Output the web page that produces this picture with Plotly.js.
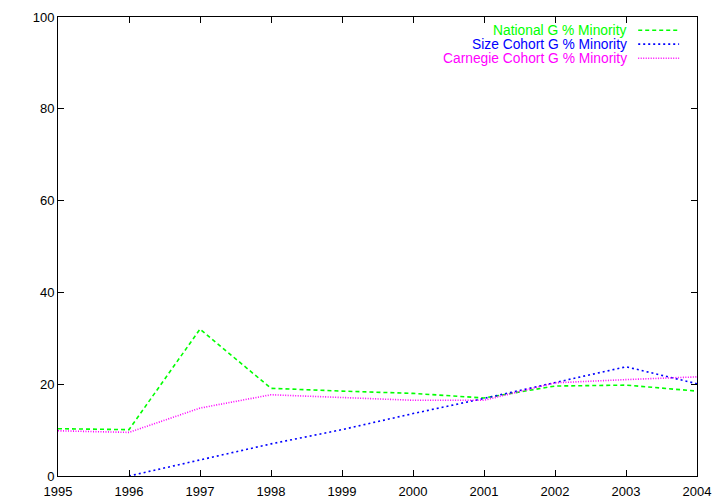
<!DOCTYPE html>
<html><head><meta charset="utf-8">
<script src="https://cdn.plot.ly/plotly-3.0.1.min.js"></script>
<style>html,body{margin:0;padding:0;background:#fff}#c{width:720px;height:504px}</style>
</head><body><div id="c"></div>
<script>
const years = [1995,1996,1997,1998,1999,2000,2001,2002,2003,2004];
const nationalMinority = [10.3,10.1,32.0,19.1,18.5,18.0,17.0,19.6,19.8,18.5];
const sizeYears = [1996,1997,1998,1999,2000,2001,2002,2003,2004];
const sizeMinority = [0.0,3.5,7.0,10.1,13.6,16.9,20.4,23.8,20.1];
const carnegieMinority = [9.85,9.5,14.8,17.7,17.1,16.5,16.5,20.3,21.0,21.6];
const seriesNames = ["National G % Minority","Size Cohort G % Minority","Carnegie Cohort G % Minority"];
const yTicks = [0,20,40,60,80,100];

const colors = ["#00ff00","#0000ff","#ff00ff"];
const dashes = ["4px,3px","2px,3px","1px,1.5px"];
const traces = [
  {x: years, y: nationalMinority, name: seriesNames[0]},
  {x: sizeYears, y: sizeMinority, name: seriesNames[1]},
  {x: years, y: carnegieMinority, name: seriesNames[2]}
].map((t,i)=>Object.assign(t,{type:'scatter',mode:'lines',showlegend:false,
  line:{color:colors[i],width:1.6,dash:dashes[i]}}));

const font = {family:'"Liberation Sans", Arial, sans-serif', size:13, color:'#000'};
const annotations = [], shapes = [];
const rowY = [0.971, 0.941, 0.910];
seriesNames.forEach((n,i)=>{
  annotations.push({xref:'paper',yref:'paper',x:0.893,y:rowY[i],xanchor:'right',yanchor:'middle',
    text:n,showarrow:false,font:Object.assign({},font,{size:13.8,color:colors[i]})});
  shapes.push({type:'line',xref:'paper',yref:'paper',x0:0.908,x1:0.972,y0:rowY[i],y1:rowY[i],
    line:{color:colors[i],width:1.6,dash:dashes[i]}});
});

const axisCommon = {showline:true,linecolor:'#000',linewidth:1,mirror:'ticks',ticks:'inside',
  ticklen:6,tickcolor:'#000',showgrid:false,zeroline:false,tickfont:font};
const layout = {
  width:720,height:504,margin:{l:58,r:23,t:17,b:28},
  paper_bgcolor:'#fff',plot_bgcolor:'#fff',font:font,
  xaxis:Object.assign({},axisCommon,{range:[1995,2004],tickvals:years,ticktext:years.map(String),
    ticklabelstandoff:3}),
  yaxis:Object.assign({},axisCommon,{range:[0,100],tickvals:yTicks,ticktext:yTicks.map(String),
    zeroline:true,zerolinecolor:'#666',zerolinewidth:2}),
  annotations:annotations,shapes:shapes
};
Plotly.newPlot('c',traces,layout,{staticPlot:true});
</script></body></html>
